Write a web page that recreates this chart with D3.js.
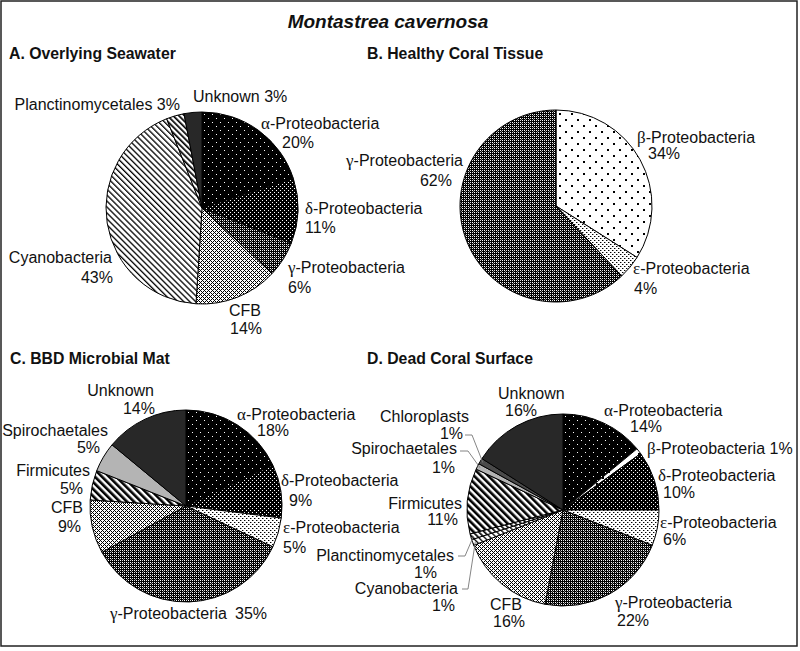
<!DOCTYPE html>
<html><head><meta charset="utf-8">
<script src="https://cdn.jsdelivr.net/npm/d3@7"></script>
<style>body{margin:0;background:#fff}svg{display:block}</style>
</head><body>
<script>
// ---------------- data ----------------
const chartTitle = "Montastrea cavernosa";
const panelTitles = ["A. Overlying Seawater", "B. Healthy Coral Tissue", "C. BBD Microbial Mat", "D. Dead Coral Surface"];

const categoriesA = ["α-Proteobacteria", "δ-Proteobacteria", "γ-Proteobacteria", "CFB", "Cyanobacteria", "Planctinomycetales", "Unknown"];
const valuesA = [20, 11, 6, 14, 43, 3, 3];

const categoriesB = ["β-Proteobacteria", "ε-Proteobacteria", "γ-Proteobacteria"];
const valuesB = [34, 4, 62];

const categoriesC = ["α-Proteobacteria", "δ-Proteobacteria", "ε-Proteobacteria", "γ-Proteobacteria", "CFB", "Firmicutes", "Spirochaetales", "Unknown"];
const valuesC = [18, 9, 5, 35, 9, 5, 5, 14];

const categoriesD = ["α-Proteobacteria", "β-Proteobacteria", "δ-Proteobacteria", "ε-Proteobacteria", "γ-Proteobacteria", "CFB", "Cyanobacteria", "Planctinomycetales", "Firmicutes", "Spirochaetales", "Chloroplasts", "Unknown"];
const valuesD = [14, 1, 10, 6, 22, 16, 1, 1, 11, 1, 1, 16];

// ---------------- styles / layout ----------------
const fillFor = {
  "α-Proteobacteria": "url(#p-alpha)",
  "β-Proteobacteria": "url(#p-beta)",
  "γ-Proteobacteria": "url(#p-gamma)",
  "δ-Proteobacteria": "url(#p-delta)",
  "ε-Proteobacteria": "url(#p-eps)",
  "CFB": "url(#p-cfb)",
  "Cyanobacteria": "url(#p-cyano)",
  "Planctinomycetales": "url(#p-planct)",
  "Firmicutes": "url(#p-firm)",
  "Spirochaetales": "#b4b4b4",
  "Chloroplasts": "#4a4a4a",
  "Unknown": "#282828"
};

// label offsets relative to pie centre: l1 / l2 = [dx, dy] for the two lines, one = single line
const labelsA = [
  {l1: [59, -79], l2: [80, -60]},
  {l1: [103, 6], l2: [103, 25]},
  {l1: [86, 65], l2: [86, 85]},
  {l1: [27, 108], l2: [28, 126]},
  {l1: [-90, 55], l2: [-89, 75], anchor: "end"},
  {one: [-22, -98], anchor: "end"},
  {one: [-9, -106]}
];
const labelsB = [
  {l1: [81, -63], l2: [92, -47]},
  {l1: [77, 68], l2: [78, 88]},
  {l1: [-93, -40], l2: [-104, -20], anchor: "end"}
];
const labelsC = [
  {l1: [51, -86], l2: [71, -70]},
  {l1: [95, -20], l2: [103, 0]},
  {l1: [97, 27], l2: [97, 47]},
  {l1: [-76, 113], l2: [49, 113]},
  {l1: [-103, 7], l2: [-105, 26], anchor: "end"},
  {l1: [-96, -30], l2: [-103, -12], anchor: "end"},
  {l1: [-78, -70], l2: [-86, -53], anchor: "end"},
  {l1: [-32, -110], l2: [-31, -92], anchor: "end"}
];
const labelsD = [
  {l1: [41, -94], l2: [67, -78]},
  {one: [84, -56]},
  {l1: [95, -29], l2: [100, -12]},
  {l1: [97, 18], l2: [100, 35]},
  {l1: [52, 98], l2: [54, 116]},
  {l1: [-73, 100], l2: [-70, 117]},
  {l1: [-105, 84], l2: [-108, 101], anchor: "end", leader: [[-101, 79], [-95, 79]]},
  {l1: [-109, 51], l2: [-126, 68], anchor: "end", leader: [[-105, 46], [-98, 46]]},
  {l1: [-101, -1], l2: [-105, 15], anchor: "end"},
  {l1: [-106, -56], l2: [-108, -37], anchor: "end", leader: [[-103, -59], [-95, -59]]},
  {l1: [-94, -88], l2: [-100, -71], anchor: "end", leader: [[-98, -75], [-91, -75]]},
  {l1: [-65, -111], l2: [-58, -94]}
];

const panels = [
  {title: panelTitles[0], tx: 9, ty: 59, cx: 202, cy: 208, cats: categoriesA, vals: valuesA, labels: labelsA},
  {title: panelTitles[1], tx: 367, ty: 59, cx: 556, cy: 206, cats: categoriesB, vals: valuesB, labels: labelsB},
  {title: panelTitles[2], tx: 10, ty: 364, cx: 186, cy: 506, cats: categoriesC, vals: valuesC, labels: labelsC},
  {title: panelTitles[3], tx: 367, ty: 364, cx: 563, cy: 510, cats: categoriesD, vals: valuesD, labels: labelsD}
];
const R = 96;
const FONT = "'Liberation Sans', Arial, Helvetica, sans-serif";
const SERIF = "'Liberation Serif', 'Times New Roman', serif";

// ---------------- drawing ----------------
const svg = d3.select("body").append("svg").attr("width", 800).attr("height", 651);
svg.append("rect").attr("width", 800).attr("height", 651).attr("fill", "#fff");

const defs = svg.append("defs");
// pixel pattern: bg colour + list of [x, y, colour] 1px cells
function pixPattern(id, size, bg, cells) {
  const p = defs.append("pattern").attr("id", id).attr("patternUnits", "userSpaceOnUse")
    .attr("width", size).attr("height", size);
  p.append("rect").attr("width", size).attr("height", size).attr("fill", bg).attr("shape-rendering", "crispEdges");
  cells.forEach(([x, y, c, s]) => p.append("rect").attr("x", x).attr("y", y)
    .attr("width", s || 1).attr("height", s || 1).attr("fill", c).attr("shape-rendering", "crispEdges"));
  return p;
}
function stripePattern(id, period, width, angle) {
  const p = defs.append("pattern").attr("id", id).attr("patternUnits", "userSpaceOnUse")
    .attr("width", period).attr("height", period).attr("patternTransform", `rotate(${angle})`);
  p.append("rect").attr("width", period).attr("height", period).attr("fill", "#fff");
  p.append("rect").attr("x", 0).attr("y", 0).attr("width", width).attr("height", period).attr("fill", "#000");
  return p;
}
// alpha: black, sparse white dots
pixPattern("p-alpha", 8, "#000", [[2, 2, "#fff"], [6, 6, "#fff"]]);
// delta: black, dense white dots
pixPattern("p-delta", 4, "#000", [[0, 0, "#fff"], [2, 2, "#fff"]]);
// epsilon: white, dense black dots
pixPattern("p-eps", 4, "#fff", [[0, 0, "#000"], [2, 2, "#000"], [1, 0, "#999"], [3, 2, "#999"]]);
// beta: white, sparse black dots
pixPattern("p-beta", 12, "#fff", [[3, 3, "#000", 1.5], [9, 9, "#000", 1.5]]);
// gamma: dark lattice
pixPattern("p-gamma", 4, "#000", [[0, 0, "#fff"], [2, 2, "#fff"], [0, 2, "#ddd"], [2, 0, "#ddd"], [1, 1, "#777"]]);
// CFB: light lattice
pixPattern("p-cfb", 4, "#fff", [[0, 0, "#000"], [1, 1, "#000"], [2, 2, "#000"], [3, 3, "#000"], [1, 3, "#000"], [3, 1, "#000"]]);
// stripes
stripePattern("p-cyano", 4.2, 1.3, -45);
stripePattern("p-planct", 4, 1.7, -45);
stripePattern("p-firm", 5, 2.6, -45);

// frame
svg.append("rect").attr("x", 1).attr("y", 1).attr("width", 796).attr("height", 645)
  .attr("fill", "none").attr("stroke", "#222").attr("stroke-width", 1.5);

// main title
svg.append("text").attr("x", 388).attr("y", 28).attr("text-anchor", "middle")
  .attr("font-family", FONT).attr("font-size", 19).attr("font-weight", "bold").attr("font-style", "italic")
  .attr("fill", "#111").text(chartTitle);

function addLabel(g, x, y, str, anchor) {
  const t = g.append("text").attr("x", x).attr("y", y).attr("text-anchor", anchor || "start")
    .attr("font-family", FONT).attr("font-size", 16).attr("fill", "#111");
  const first = str.charAt(0);
  if (/[α-ω]/.test(first)) {
    t.append("tspan").attr("font-family", SERIF).attr("font-size", 17).text(first);
    t.append("tspan").text(str.slice(1));
  } else {
    t.text(str);
  }
}

const pie = d3.pie().sort(null).value(d => d.v);
const arc = d3.arc().innerRadius(0).outerRadius(R);
const edge = d3.arc().innerRadius(R * 0.97).outerRadius(R * 0.97);

panels.forEach(pn => {
  svg.append("text").attr("x", pn.tx).attr("y", pn.ty)
    .attr("font-family", FONT).attr("font-size", 15.8).attr("font-weight", "bold").attr("fill", "#111")
    .text(pn.title);

  const data = pn.cats.map((c, i) => ({c, v: pn.vals[i], lab: pn.labels[i]}));
  const g = svg.append("g").attr("transform", `translate(${pn.cx},${pn.cy})`);
  const arcs = pie(data);
  g.selectAll("path.slice").data(arcs).join("path").attr("class", "slice")
    .attr("d", arc).attr("fill", d => fillFor[d.data.c])
    .attr("stroke", "#000").attr("stroke-width", 1).attr("stroke-linejoin", "round");

  arcs.forEach(a => {
    const L = a.data.lab;
    const pct = `${a.data.v}%`;
    if (L.one) {
      addLabel(g, L.one[0], L.one[1], `${a.data.c} ${pct}`, L.anchor);
    } else {
      addLabel(g, L.l1[0], L.l1[1], a.data.c, L.anchor);
      addLabel(g, L.l2[0], L.l2[1], pct, L.anchor);
    }
    if (L.leader) {
      const e = edge.centroid(a);
      g.append("polyline")
        .attr("points", [L.leader[0], L.leader[1], e].map(q => q.join(",")).join(" "))
        .attr("fill", "none").attr("stroke", "#777").attr("stroke-width", 0.9);
    }
  });
});
</script>
</body></html>
